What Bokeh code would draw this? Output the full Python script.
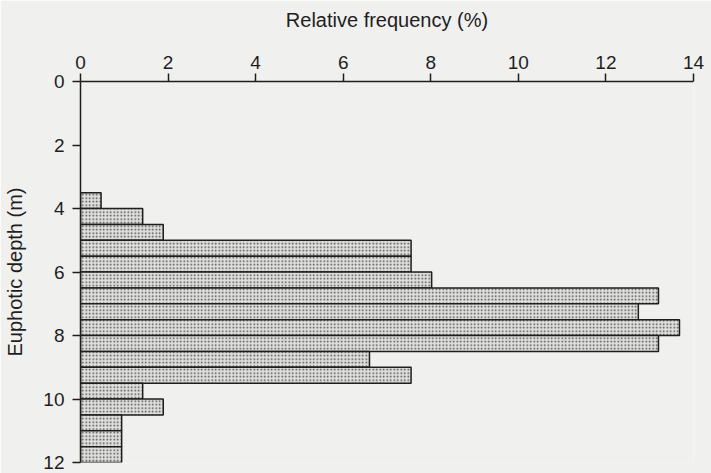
from bokeh.plotting import figure
from bokeh.models import Range1d, FixedTicker
from bokeh.embed import file_html
from bokeh.resources import INLINE

# Depth bins (m): upper edge of each 0.5 m bin
depth_top = [3.5, 4.0, 4.5, 5.0, 5.5, 6.0, 6.5, 7.0, 7.5, 8.0, 8.5, 9.0, 9.5, 10.0, 10.5, 11.0, 11.5]
bin_size = 0.5
# Relative frequency (%)
freq = [0.47, 1.42, 1.89, 7.55, 7.55, 8.02, 13.2, 12.74, 13.68, 13.2, 6.6, 7.55, 1.42, 1.89, 0.94, 0.94, 0.94]

x_ticks = [0, 2, 4, 6, 8, 10, 12, 14]
y_ticks = [0, 2, 4, 6, 8, 10, 12]

bg = "#f0f0ef"
ink = "#1e1e1e"

p = figure(width=711, height=473, output_backend="svg", toolbar_location=None,
           x_range=Range1d(0, 14), y_range=Range1d(12, 0),
           x_axis_location="above",
           min_border_left=80, min_border_top=81, min_border_right=18, min_border_bottom=11,
           background_fill_color=bg, border_fill_color=bg)
p.outline_line_color = None
p.grid.visible = False

centers = [d + bin_size / 2 for d in depth_top]
p.hbar(y=centers, left=0, right=freq, height=bin_size,
       fill_color="#dededc", line_color=ink, line_width=1.5,
       hatch_pattern="dot", hatch_color="#4a4a4a", hatch_scale=3.5, hatch_weight=1)

for ax in (p.xaxis[0], p.yaxis[0]):
    ax.axis_line_color = ink
    ax.axis_line_width = 1.5
    ax.major_tick_line_color = ink
    ax.major_tick_line_width = 1.5
    ax.major_tick_in = 0
    ax.major_tick_out = 8
    ax.minor_tick_line_color = None
    ax.major_label_text_font = "Liberation Sans"
    ax.major_label_text_font_size = "19px"
    ax.major_label_text_color = ink
    ax.axis_label_text_font = "Liberation Sans"
    ax.axis_label_text_font_size = "20px"
    ax.axis_label_text_font_style = "normal"
    ax.axis_label_text_color = ink

p.xaxis[0].ticker = FixedTicker(ticks=x_ticks)
p.yaxis[0].ticker = FixedTicker(ticks=y_ticks)
p.xaxis[0].axis_label = "Relative frequency (%)"
p.yaxis[0].axis_label = "Euphotic depth (m)"
p.xaxis[0].major_label_standoff = 5
p.xaxis[0].axis_label_standoff = 22
p.yaxis[0].major_label_standoff = 8
p.yaxis[0].axis_label_standoff = 14

open("out.html", "w").write(file_html(p, INLINE))
